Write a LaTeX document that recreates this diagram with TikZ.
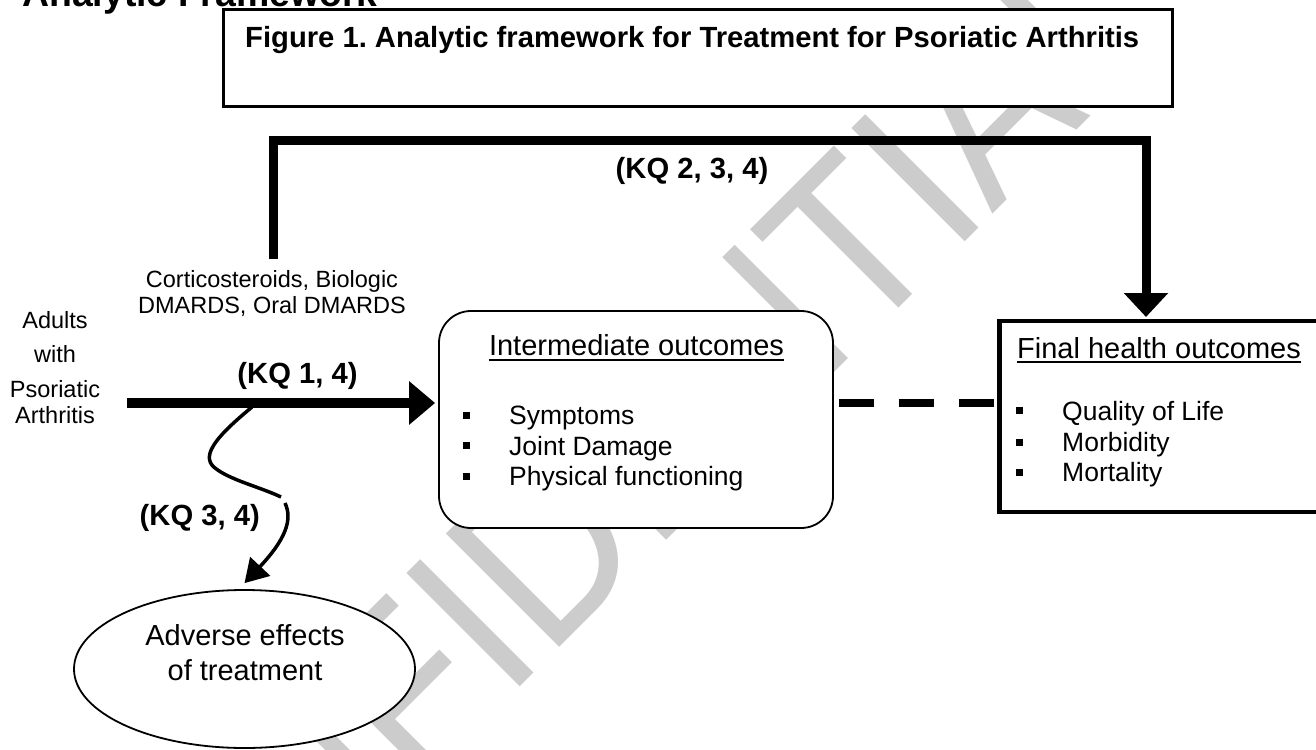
\documentclass[tikz,border=0pt]{standalone}
\usepackage{fontspec}
\usepackage{graphicx}
\setmainfont{Liberation Sans}
\usetikzlibrary{shapes.geometric,arrows.meta}
\frenchspacing
\begin{document}
\begin{tikzpicture}[x=1pt,y=-1pt,
  txt/.style={inner sep=0pt, anchor=base},
  bold29/.style={font=\fontsize{29.2}{33}\selectfont\bfseries},
  reg29/.style={font=\fontsize{29}{33}\selectfont},
  reg26/.style={font=\fontsize{26.5}{30}\selectfont},
  reg23/.style={font=\fontsize{23.5}{26}\selectfont},
  bulletbox/.style={fill=black, inner sep=0pt, minimum size=7pt},
  fatline/.style={line width=9pt},
  bigtip/.style={-{Triangle[length=24pt,width=43pt]}},
  wave/.style={line width=3.5pt},
]
\useasboundingbox (0,0) rectangle (1316,749);
\clip (0,0) rectangle (1316,749);

% watermark
\node[txt, rotate=45, text=black!20, font=\fontsize{233}{233}\selectfont] (wm) at (630,577) {\scalebox{0.9}[1]{CONFIDENTIAL}};

% header (cut at top)
\node[txt, anchor=base west, font=\fontsize{37.4}{40}\selectfont\bfseries] (hdr) at (22,7) {Analytic Framework};

% title box
\node[draw, line width=3pt, fill=white, minimum width=948.5pt, minimum height=96.5pt, inner sep=0pt] (titlebox) at (697.75,58.25) {};
\node[txt, anchor=base west, bold29] (titletext) at (245,47.5) {Figure 1. Analytic framework for Treatment for Psoriatic Arthritis};

% boxes
\node[draw, line width=1.8pt, rounded corners=32pt, fill=white, minimum width=394pt, minimum height=217pt, inner sep=0pt] (inter) at (636,419.5) {};
\node[draw, line width=4.5pt, fill=white, minimum width=330.5pt, minimum height=191pt, inner sep=0pt] (fin) at (1164.75,416.5) {};
\node[ellipse, draw, line width=1.8pt, fill=white, minimum width=341pt, minimum height=158pt, inner sep=0pt] (adv) at (244.5,669) {};

% coordinates
\coordinate (kqstart) at (273,259);
\coordinate (kqend) at (1146,317);
\coordinate (mstart) at (127,403);
\coordinate (ws) at (252,407);
\coordinate (wmid) at (285,503);
\coordinate (advtip) at ([yshift=6pt]adv.north);

% connectors
\draw[fatline, bigtip] (kqstart) -- ++(0,-119) -| (kqend);
\draw[line width=10pt, -{Triangle[length=26pt,width=42pt]}, shorten >=3pt] (mstart) -- (mstart -| inter.west);
\draw[line width=8pt, dash pattern=on 35pt off 25pt, shorten <=5pt] (mstart -| inter.east) -- (mstart -| fin.west);
\draw[wave] (ws) .. controls (222,432) and (198,455) .. (215,468) .. controls (230,480) and (260,487) .. (281,497);
\draw[wave, -{Triangle[length=23pt,width=27pt]}] (wmid) .. controls (293,520) and (285,540) .. (advtip);

% labels
\node[txt, bold29] (kq234) at (692,178) {(KQ 2, 3, 4)};
\node[txt, bold29] (kq14) at (297.5,383) {(KQ 1, 4)};
\node[txt, anchor=base east, bold29] (kq34) at (260,525) {(KQ 3, 4)};

\node[txt, reg23] (cort1) at (272,287) {Corticosteroids, Biologic};
\node[txt, reg23] (cort2) at (272,313) {DMARDS, Oral DMARDS};
\node[txt, reg23] (pop1) at (55,328) {Adults};
\node[txt, reg23] (pop2) at (55,362) {with};
\node[txt, reg23] (pop3) at (55,397) {Psoriatic};
\node[txt, reg23] (pop4) at (55,423) {Arthritis};

% intermediate outcomes
\node[txt, reg29] (interhead) at (636.5,355) {Intermediate outcomes};
\draw[line width=1.8pt] ([yshift=-5pt]interhead.base west) -- ([yshift=-5pt]interhead.base east);
\node[bulletbox] (ib1) at (466,415) {};
\node[bulletbox] (ib2) at (466,445) {};
\node[bulletbox] (ib3) at (466,476) {};
\node[txt, anchor=base west, reg26] (i1) at (509,424) {Symptoms};
\node[txt, anchor=base west, reg26] (i2) at (509,455) {Joint Damage};
\node[txt, anchor=base west, reg26] (i3) at (509,485) {Physical functioning};

% final outcomes
\node[txt, anchor=base west, reg29] (finhead) at (1017,358) {Final health outcomes};
\draw[line width=1.8pt] ([yshift=-4pt]finhead.base west) -- ([yshift=-4pt]finhead.base east);
\node[bulletbox] (fb1) at (1019,410) {};
\node[bulletbox] (fb2) at (1019,442) {};
\node[bulletbox] (fb3) at (1019,472) {};
\node[txt, anchor=base west, reg26] (f1) at (1062,420) {Quality of Life};
\node[txt, anchor=base west, reg26] (f2) at (1062,451) {Morbidity};
\node[txt, anchor=base west, reg26] (f3) at (1062,481) {Mortality};

% adverse effects
\node[txt, reg29] (adv1) at (245,645) {Adverse effects};
\node[txt, reg29] (adv2) at (245,680) {of treatment};
\end{tikzpicture}
\end{document}
